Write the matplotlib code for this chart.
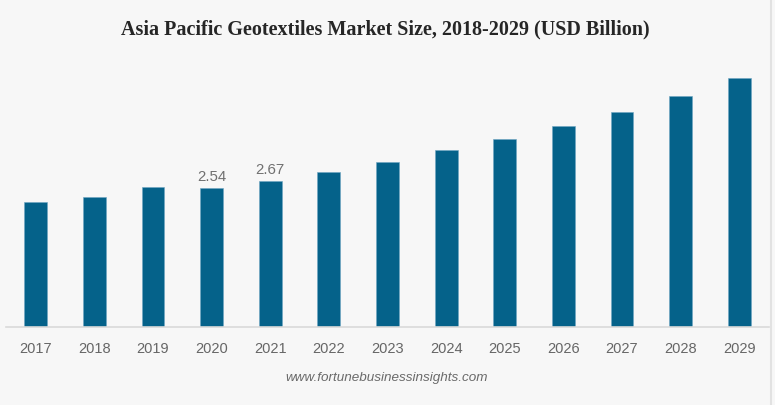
import matplotlib
matplotlib.use("Agg")
import matplotlib.pyplot as plt

years = ["2017", "2018", "2019", "2020", "2021", "2022", "2023",
         "2024", "2025", "2026", "2027", "2028", "2029"]
values = [2.29, 2.39, 2.56, 2.54, 2.67, 2.84, 3.02,
          3.24, 3.44, 3.69, 3.94, 4.24, 4.56]
labeled = {"2020": "2.54", "2021": "2.67"}

title = "Asia Pacific Geotextiles Market Size, 2018-2029 (USD Billion)"
source = "www.fortunebusinessinsights.com"

W, H = 775, 405
fig = plt.figure(figsize=(W / 100, H / 100), dpi=100)
fig.patch.set_facecolor("#f7f7f7")

# axes placement in pixels
left_px, right_px = 6.5, 768.6
bottom_px, top_px = 327.0, 60.0
ax = fig.add_axes([left_px / W, 1 - bottom_px / H,
                   (right_px - left_px) / W, (bottom_px - top_px) / H])
ax.set_facecolor("#f7f7f7")

x = list(range(len(years)))
bars = ax.bar(x, values, width=0.39, color="#05628a",
              edgecolor="#6fa6c2", linewidth=0.4)
ax.set_xlim(-0.5, len(years) - 0.5)
ax.set_ylim(0, (bottom_px - top_px) * 0.01832)

for i, (yr, v) in enumerate(zip(years, values)):
    if yr in labeled:
        ax.annotate(labeled[yr], (i, v), xytext=(0, 3), textcoords="offset points",
                    ha="center", va="bottom", fontsize=10.8, color="#707070",
                    family="Liberation Sans")

ax.set_xticks(x)
ax.set_xticklabels(years, fontsize=10.5, color="#666666", family="Liberation Sans")
ax.tick_params(axis="x", length=0, pad=11)
ax.set_yticks([])
for s in ["top", "right", "left"]:
    ax.spines[s].set_visible(False)
ax.spines["bottom"].set_color("#d9d9d9")
ax.spines["bottom"].set_linewidth(1.2)

fig.text(385 / W, 1 - 29 / H, title, ha="center", va="center",
         fontsize=14.5, fontweight="bold", color="#262626", family="Liberation Serif")
fig.text(387 / W, 1 - 378 / H, source, ha="center", va="center",
         fontsize=9.7, style="italic", color="#6a6a6a", family="Liberation Sans")

# card edge on the right
fig.add_artist(plt.Line2D([771 / W, 771 / W], [0, 1], color="#e2e2e2", lw=1.5))

fig.savefig("out.png", dpi=100, facecolor=fig.get_facecolor())
